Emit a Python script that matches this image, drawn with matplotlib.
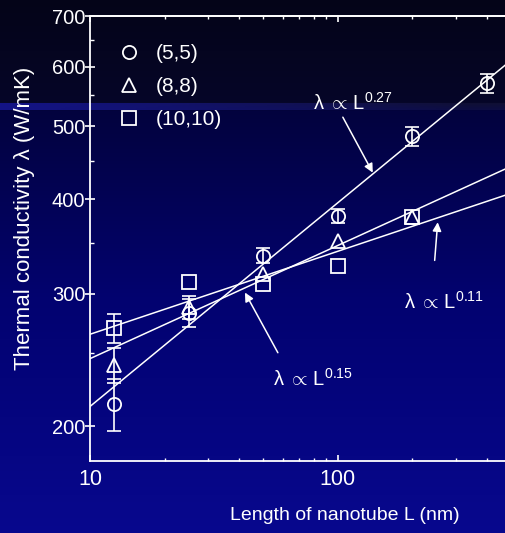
import numpy as np
import matplotlib.pyplot as plt
from matplotlib.ticker import FixedLocator, FixedFormatter, NullFormatter

plt.rcParams['font.family'] = ['Liberation Sans', 'DejaVu Sans']
plt.rcParams['mathtext.fontset'] = 'custom'
plt.rcParams['mathtext.rm'] = 'Liberation Sans'
plt.rcParams['mathtext.it'] = 'Liberation Sans'
plt.rcParams['mathtext.bf'] = 'Liberation Sans'

# data
length_55 = [12.5, 25, 50, 100, 200, 400]
k_55 = [214.5, 283, 337, 380, 485, 570]
k_55_err = [17, 12, 8, 8, 14, 16]

length_88 = [12.5, 25, 50, 100, 200]
k_88 = [241.5, 288, 318.5, 352, 379]
k_88_err = [13, 10, 0, 0, 0]

length_1010 = [12.5, 25, 50, 100, 200]
k_1010 = [270, 311, 309, 326, 379]
k_1010_err = [12, 0, 0, 0, 0]

series_labels = ['(5,5)', '(8,8)', '(10,10)']
series_markers = ['o', '^', 's']

# power-law fits: lambda = k10 * (L/10)^n
fit_exponent = [0.27, 0.15, 0.11]
fit_k_at_10nm = [212.6, 246, 265]

y_ticks = [200, 300, 400, 500, 600, 700]
y_minor = [250, 350, 450, 550, 650]
x_ticks = [10, 100]
x_minor = [20, 30, 40, 50, 60, 70, 80, 90, 200, 300, 400]

W, H = 505, 533
fig = plt.figure(figsize=(W / 100, H / 100), dpi=100)

# background: dark-to-blue slide gradient with a light streak
bg = np.zeros((H, W, 3))
rows = np.arange(H)
stops_y = [0, 102, 111, 300, 533]
stops_c = np.array([[4, 4, 24], [6, 6, 40], [2, 2, 62], [2, 2, 112], [8, 8, 142]]) / 255
for c in range(3):
    bg[:, :, c] = np.interp(rows, stops_y, stops_c[:, c])[:, None]
fade = np.clip(1 - np.arange(W) / 470, 0, 1)
band = np.array([22, 22, 150]) / 255
for c in range(3):
    bg[103:110, :, c] = bg[103:110, :, c] * (1 - fade) + band[c] * fade * 0.9 + 0.04 * (1 - fade)
bg_ax = fig.add_axes([0, 0, 1, 1], zorder=0)
bg_ax.imshow(bg, aspect='auto', interpolation='nearest')
bg_ax.axis('off')

ax = fig.add_axes([90 / W, 72 / H, 421 / W, 445 / H], zorder=1)
ax.patch.set_alpha(0)
ax.set_xscale('log')
ax.set_yscale('log')
ax.set_xlim(10, 500)
ax.set_ylim(180, 700)

white = 'white'
xs = np.geomspace(10, 500, 50)
for n, k10 in zip(fit_exponent, fit_k_at_10nm):
    ax.plot(xs, k10 * (xs / 10) ** n, color=white, lw=1.1, zorder=2)

handles = []
for lx, ky, ke, lab, m in zip([length_55, length_88, length_1010], [k_55, k_88, k_1010],
                              [k_55_err, k_88_err, k_1010_err], series_labels, series_markers):
    lx, ky, ke = np.array(lx), np.array(ky), np.array(ke)
    has = ke > 0
    ax.errorbar(lx[has], ky[has], yerr=ke[has], fmt='none', ecolor=white,
                elinewidth=1.2, capsize=4.8, capthick=1.2, zorder=3)
    h, = ax.plot(lx, ky, ls='none', marker=m, ms=9.5, mfc='none', mec=white, mew=1.3,
                 label=lab, zorder=4)
    handles.append(h)

ax.legend(handles=handles, loc='upper left', bbox_to_anchor=(0.068, 0.936), frameon=False,
          fontsize=15, labelcolor=white, handlelength=1.0, handletextpad=0.8,
          labelspacing=0.67, borderpad=0, borderaxespad=0)

# annotations
arrow = dict(arrowstyle='-|>', color=white, lw=1.1, mutation_scale=13, shrinkA=0, shrinkB=0)
ax.annotate('', xy=(138.4, 434), xytext=(104.8, 514), arrowprops=arrow)
ax.annotate('', xy=(253, 373), xytext=(246, 332), arrowprops=arrow)
ax.annotate('', xy=(42.2, 301), xytext=(57.3, 250.5), arrowprops=arrow)
fit_text = r'$\lambda\;\propto\,\mathrm{L}^{%s}$'
ax.text(79.3, 525, fit_text % '0.27', color=white, fontsize=14.5, va='baseline')
ax.text(184.5, 286.6, fit_text % '0.11', color=white, fontsize=14.5, va='baseline')
ax.text(54.7, 226.5, fit_text % '0.15', color=white, fontsize=14.5, va='baseline')

for s in ax.spines.values():
    s.set_color(white)
    s.set_linewidth(1.3)

ax.yaxis.set_major_locator(FixedLocator(y_ticks))
ax.yaxis.set_major_formatter(FixedFormatter([str(v) for v in y_ticks]))
ax.yaxis.set_minor_locator(FixedLocator(y_minor))
ax.yaxis.set_minor_formatter(NullFormatter())
ax.xaxis.set_major_locator(FixedLocator(x_ticks))
ax.xaxis.set_major_formatter(FixedFormatter([str(v) for v in x_ticks]))
ax.xaxis.set_minor_locator(FixedLocator(x_minor))
ax.xaxis.set_minor_formatter(NullFormatter())

ax.tick_params(axis='y', which='major', direction='inout', length=6.5, width=1.2,
               colors=white, labelsize=14.5, pad=0)
ax.tick_params(axis='y', which='minor', direction='in', length=2.6, width=1.0, colors=white)
ax.tick_params(axis='x', which='major', direction='in', length=4.3, width=1.2,
               colors=white, labelsize=15.5, pad=6)
ax.tick_params(axis='x', which='minor', direction='in', length=2.5, width=1.0, colors=white)

# inward ticks on the top and right frame
top = ax.secondary_xaxis('top')
top.xaxis.set_major_locator(FixedLocator(x_ticks))
top.xaxis.set_minor_locator(FixedLocator(x_minor))
top.xaxis.set_major_formatter(NullFormatter())
top.xaxis.set_minor_formatter(NullFormatter())
top.tick_params(which='major', direction='in', length=4.3, width=1.2, colors=white)
top.tick_params(which='minor', direction='in', length=2.5, width=1.0, colors=white)
right = ax.secondary_yaxis('right')
right.yaxis.set_major_locator(FixedLocator(y_ticks))
right.yaxis.set_minor_locator(FixedLocator(y_minor))
right.yaxis.set_major_formatter(NullFormatter())
right.yaxis.set_minor_formatter(NullFormatter())
right.tick_params(which='major', direction='in', length=4.3, width=1.2, colors=white)
right.tick_params(which='minor', direction='in', length=2.5, width=1.0, colors=white)
for sec in (top, right):
    for s in sec.spines.values():
        s.set_color(white)
        s.set_linewidth(1.3)

fig.text(25 / W, 1 - 218 / H, r'Thermal conductivity λ (W/mK)', rotation=90, color=white,
         fontsize=16, ha='center', va='center')
fig.text(345 / W, 1 - 516 / H, 'Length of nanotube L (nm)', color=white,
         fontsize=14, ha='center', va='center')

fig.savefig('out.png', dpi=100)
